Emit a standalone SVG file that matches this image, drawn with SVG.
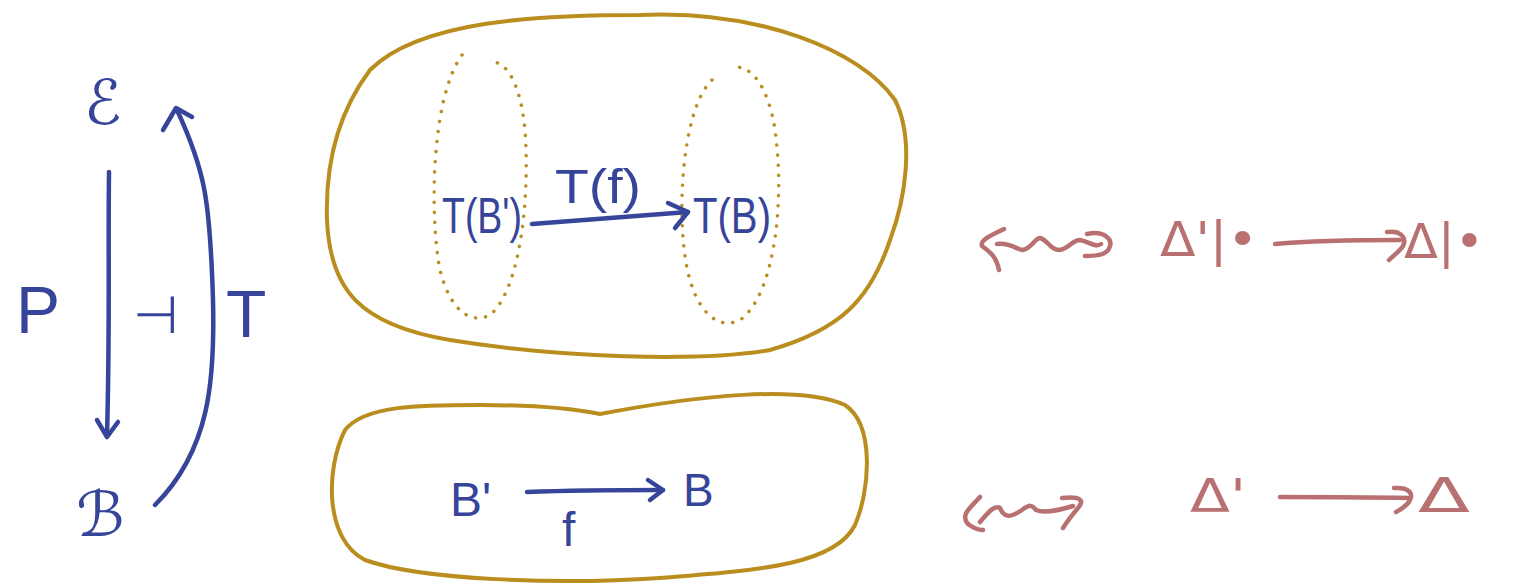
<svg xmlns="http://www.w3.org/2000/svg" width="1514" height="587" viewBox="0 0 1514 587">
<style>
.blob{fill:none;stroke:#b98e1f;stroke-width:4;stroke-linejoin:round}
.dot{fill:none;stroke:#b98e1f;stroke-width:3.5;stroke-linecap:round;stroke-dasharray:0.1 10}
.b{fill:none;stroke:#36459a;stroke-width:4.5;stroke-linecap:round;stroke-linejoin:round}
.r{fill:none;stroke:#b87070;stroke-width:4.5;stroke-linecap:round;stroke-linejoin:round}
.tb{fill:#36459a;font-family:"Liberation Sans","DejaVu Sans",sans-serif}
.tr{fill:#b87070;font-family:"DejaVu Sans","Liberation Sans",sans-serif}
</style>
<rect width="1514" height="587" fill="#ffffff"/>
<g id="blob-top">
<path class="blob" d="M640,15 C760,10 860,50 895,100 C915,140 905,200 890,240 C870,300 840,330 770,350 C700,362 560,358 450,340 C360,325 330,290 327,220 C325,160 340,110 370,70 C420,20 540,15 640,15 Z"/>
<path class="dot" d="M462,55 C430,100 430,220 440,270 C450,310 470,325 490,315 C520,290 530,200 525,130 C520,80 505,60 490,62"/>
<path class="dot" d="M712,80 C680,110 675,230 690,280 C700,315 720,330 740,320 C775,295 785,200 775,130 C768,85 750,62 730,68"/>
</g>
<g id="blob-bottom">
<path class="blob" d="M600,414 C700,395 800,385 845,405 C875,425 870,490 855,525 C835,565 760,570 660,578 C560,585 420,580 365,560 C325,540 325,470 345,430 C365,405 420,405 480,405 C540,405 580,410 600,414 Z"/>
</g>
<g id="node-E"><text class="tb" x="84" y="124" font-size="62" font-style="italic">ℰ</text></g>
<g id="node-B"><text class="tb" x="76" y="536" font-size="62" font-style="italic">ℬ</text></g>
<g id="label-P"><text class="tb" x="16" y="333" font-size="66">P</text></g>
<g id="label-adj"><text class="tb" x="133" y="333" font-size="52">⊣</text></g>
<g id="label-T"><text class="tb" x="226" y="337" font-size="66">T</text></g>
<g id="node-TB1"><text class="tb" x="442" y="233" font-size="50" textLength="80" lengthAdjust="spacingAndGlyphs">T(B')</text></g>
<g id="node-TB"><text class="tb" x="693" y="233" font-size="50" textLength="78" lengthAdjust="spacingAndGlyphs">T(B)</text></g>
<g id="label-Tf"><text class="tb" x="555" y="203" font-size="48" textLength="86" lengthAdjust="spacingAndGlyphs">T(f)</text></g>
<g id="node-B1"><text class="tb" x="450" y="516" font-size="48">B'</text></g>
<g id="node-B2"><text class="tb" x="683" y="506" font-size="46">B</text></g>
<g id="label-f"><text class="tb" x="562" y="546" font-size="48">f</text></g>
<g id="node-D1slice"><text class="tr" x="1160" y="256" font-size="48" textLength="98" lengthAdjust="spacingAndGlyphs">Δ'|•</text></g>
<g id="node-Dslice"><text class="tr" x="1404" y="258" font-size="48" textLength="80" lengthAdjust="spacingAndGlyphs">Δ|•</text></g>
<g id="node-D1"><text class="tr" x="1190" y="512" font-size="46" textLength="56" lengthAdjust="spacingAndGlyphs">Δ'</text></g>
<g id="node-D"><text class="tr" x="1418" y="512" font-size="48" textLength="52" lengthAdjust="spacingAndGlyphs">Δ</text></g>
<g id="connectors">
<path class="b" d="M109,172 C108,250 110,330 107,435"/>
<path class="b" d="M97,420 L107,437 L118,422"/>
<path class="b" d="M155,505 C210,450 215,380 213,300 C210,200 205,170 177,110"/>
<path class="b" d="M163,130 L176,108 L192,117"/>
<path class="b" d="M532,224 L688,212"/>
<path class="b" d="M668,203 L688,212 L675,228"/>
<path class="b" d="M527,492 C580,490 620,490 663,490"/>
<path class="b" d="M648,480 L663,490 L650,500"/>
<path class="r" d="M1004,229 C990,236 980,240 982,246 C990,252 996,256 999,270"/>
<path class="r" d="M997,244 C1010,242 1017,250 1023,250 C1032,248 1035,238 1040,238 C1048,240 1050,250 1060,250 C1070,248 1072,240 1080,240 C1090,242 1095,248 1101,244"/>
<path class="r" d="M1087,234 C1105,230 1112,240 1110,246 C1108,254 1100,256 1085,256"/>
<path class="r" d="M1275,244 C1320,240 1360,240 1400,240"/>
<path class="r" d="M1387,232 C1401,230 1407,238 1403,246 C1399,252 1393,256 1389,260"/>
<path class="r" d="M980,497 C970,508 960,515 968,524 C976,530 982,530 983,530"/>
<path class="r" d="M980,522 C990,510 995,505 1000,508 C1004,518 1010,518 1022,510 C1030,504 1032,505 1036,510 C1045,514 1060,510 1073,506"/>
<path class="r" d="M1062,498 C1080,496 1085,500 1078,508 C1072,515 1068,520 1063,528"/>
<path class="r" d="M1280,497 C1320,497 1360,497 1408,498"/>
<path class="r" d="M1394,488 C1410,487 1414,494 1409,502 C1404,508 1400,510 1396,512"/>
</g>
</svg>
